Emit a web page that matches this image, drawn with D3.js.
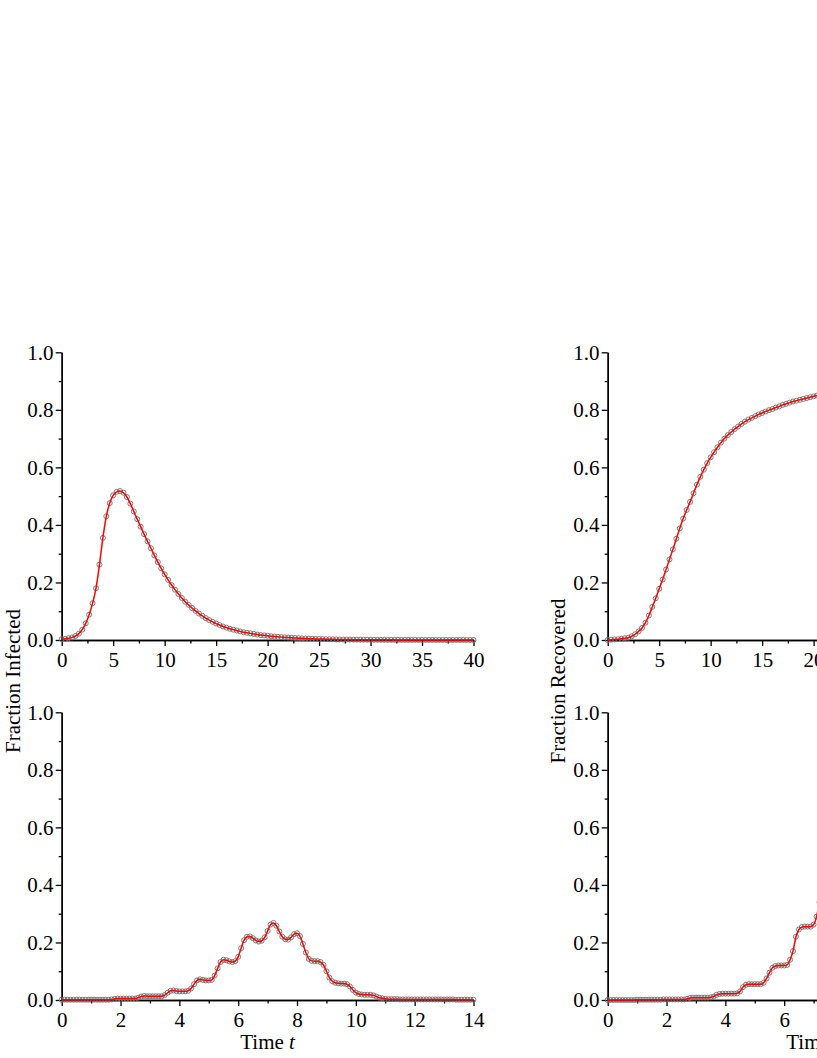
<!DOCTYPE html>
<html><head><meta charset="utf-8">
<script src="https://cdn.jsdelivr.net/npm/d3@7"></script>
<style>
body{margin:0;background:#fff}
svg{display:block}
text{font-family:"Liberation Serif","Times New Roman",serif;fill:#000}
</style>
</head><body>
<svg id="c" width="817" height="1058"></svg>
<script>
// ---------- data ----------
// top panels: samples every 1/3 time unit, t = 0 .. 40
const topStepCount = 121;
const tTop = d3.range(topStepCount).map(i => i / 3);
const infectedTop = [
 0.003,0.004,0.006,0.009,0.014,0.022,0.036,0.058,0.088,0.128,
 0.180,0.262,0.355,0.430,0.476,0.503,0.515,0.518,0.512,0.497,
 0.474,0.447,0.420,0.394,0.368,0.343,0.319,0.294,0.271,0.249,
 0.228,0.209,0.191,0.175,0.160,0.146,0.133,0.122,0.111,0.101,
 0.092,0.084,0.076,0.069,0.063,0.057,0.052,0.047,0.043,0.039,
 0.036,0.033,0.030,0.027,0.025,0.023,0.021,0.019,0.017,0.016,
 0.015,0.013,0.012,0.011,0.010,0.009,0.0085,0.0077,0.0070,0.0063,
 0.0057,0.0052,0.0047,0.0043,0.0039,0.0035,0.0032,0.0029,0.0026,0.0024,
 0.0021,0.0019,0.0017,0.0016,0.0014,0.0013,0.0012,0.0011,0.0010,0.0009,
 0.0008,0.0007,0.0007,0.0006,0.0006,0.0005,0.0005,0.0004,0.0004,0.0004,
 0.0003,0.0003,0.0003,0.0003,0.0002,0.0002,0.0002,0.0002,0.0002,0.0001,
 0.0001,0.0001,0.0001,0.0001,0.0001,0.0001,0.0001,0.0001,0.0001,0.0001,
 0.0001
];
const recoveredTop = [
 0.000,0.001,0.002,0.003,0.004,0.006,0.008,0.013,0.020,0.030,
 0.042,0.060,0.085,0.115,0.145,0.178,0.210,0.245,0.280,0.315,
 0.352,0.388,0.422,0.452,0.480,0.510,0.540,0.567,0.592,0.615,
 0.635,0.653,0.670,0.686,0.700,0.712,0.723,0.733,0.742,0.751,
 0.759,0.766,0.772,0.778,0.784,0.789,0.794,0.799,0.803,0.808,
 0.812,0.817,0.821,0.825,0.829,0.832,0.835,0.838,0.841,0.844,
 0.847,0.850,0.852,0.854,0.856,0.857,0.859,0.860,0.861,0.862,
 0.863,0.864,0.865,0.866,0.866,0.867,0.867,0.868,0.868,0.868,
 0.869,0.869,0.869,0.869,0.870,0.870,0.870,0.870,0.870,0.870,
 0.871,0.871,0.871,0.871,0.871,0.871,0.871,0.871,0.871,0.871,
 0.871,0.871,0.871,0.871,0.871,0.871,0.871,0.871,0.871,0.871,
 0.871,0.871,0.871,0.871,0.871,0.871,0.871,0.871,0.871,0.871,
 0.871
];
// bottom panels: samples every 0.1 time unit, t = 0 .. 14
const bottomStepCount = 141;
const tBottom = d3.range(bottomStepCount).map(i => i / 10);
const infectedBottom = [
 0.001,0.001,0.001,0.001,0.001,0.001,0.001,0.001,0.001,0.001,
 0.001,0.001,0.001,0.001,0.001,0.001,0.001,0.002,0.004,0.005,
 0.005,0.005,0.005,0.005,0.005,0.005,0.008,0.012,0.014,0.013,
 0.013,0.013,0.013,0.013,0.013,0.017,0.025,0.032,0.033,0.031,
 0.030,0.030,0.030,0.032,0.040,0.055,0.068,0.072,0.070,0.068,
 0.068,0.070,0.085,0.110,0.132,0.140,0.138,0.134,0.132,0.135,
 0.150,0.180,0.208,0.220,0.221,0.215,0.207,0.203,0.206,0.218,
 0.240,0.262,0.268,0.258,0.238,0.220,0.211,0.210,0.218,0.229,
 0.232,0.222,0.195,0.165,0.143,0.136,0.135,0.135,0.132,0.122,
 0.100,0.078,0.065,0.060,0.058,0.057,0.057,0.055,0.047,0.035,
 0.026,0.021,0.019,0.018,0.018,0.018,0.016,0.012,0.008,0.006,
 0.004,0.003,0.003,0.003,0.003,0.002,0.002,0.002,0.002,0.002,
 0.002,0.002,0.002,0.002,0.002,0.002,0.002,0.002,0.002,0.002,
 0.002,0.002,0.002,0.002,0.001,0.001,0.001,0.001,0.001,0.001,
 0.001
];
const recoveredBottom = [
 0.000,0.000,0.000,0.000,0.000,0.000,0.000,0.000,0.000,0.000,
 0.001,0.001,0.001,0.001,0.001,0.001,0.001,0.001,0.001,0.002,
 0.002,0.002,0.002,0.002,0.002,0.002,0.002,0.004,0.007,0.008,
 0.008,0.008,0.008,0.008,0.008,0.009,0.012,0.018,0.021,0.022,
 0.022,0.022,0.022,0.022,0.023,0.030,0.045,0.053,0.055,0.055,
 0.055,0.055,0.055,0.060,0.075,0.095,0.112,0.118,0.120,0.120,
 0.120,0.122,0.140,0.170,0.220,0.245,0.254,0.255,0.255,0.255,
 0.262,0.290,0.340,0.400,0.440,0.460,0.468,0.470,0.475,0.490,
 0.540,0.600,0.650,0.680,0.690,0.695,0.695,0.695,0.695,0.710,
 0.750,0.800,0.820,0.830,0.830,0.830,0.830,0.830,0.850,0.870,
 0.885,0.890,0.890,0.890,0.890,0.890,0.890,0.900,0.905,0.908,
 0.908,0.908,0.908,0.908,0.909,0.909,0.909,0.909,0.909,0.909,
 0.909,0.909,0.909,0.910,0.910,0.910,0.910,0.910,0.910,0.910,
 0.910,0.910,0.910,0.910,0.910,0.910,0.910,0.910,0.910,0.910,
 0.910
];
const yTicksMajor = [0, 0.2, 0.4, 0.6, 0.8, 1.0];
const yTicksMinor = [0.1, 0.3, 0.5, 0.7, 0.9];
const xTicksTopMajor = [0, 5, 10, 15, 20, 25, 30, 35, 40];
const xTicksTopMinor = [2.5, 7.5, 12.5, 17.5, 22.5, 27.5, 32.5, 37.5];
const xTicksBottomMajor = [0, 2, 4, 6, 8, 10, 12, 14];
const xTicksBottomMinor = [1, 3, 5, 7, 9, 11, 13];
const yLabels = ["Fraction Infected", "Fraction Recovered"];
const xLabel = "Time ";
const xLabelVar = "t";

// ---------- drawing ----------
const svg = d3.select('#c');
const W = 411.8, H = 287.7;
const FS = 21;

function drawPanel(p) {
  const x = d3.scaleLinear().domain([0, p.xmax]).range([p.x0, p.x0 + W]);
  const y = d3.scaleLinear().domain([0, 1]).range([p.y0, p.y0 - H]);
  const g = svg.append('g');

  const styleAxis = sel => {
    sel.select('.domain').attr('stroke', '#000').attr('stroke-width', 1.4);
    sel.selectAll('.tick line').attr('stroke', '#000').attr('stroke-width', 1.3);
    sel.selectAll('.tick text').attr('font-size', FS).attr('font-family', '"Liberation Serif", serif').attr('fill', '#000');
  };
  g.append('g').attr('transform', `translate(0,${p.y0})`)
    .call(d3.axisBottom(x).tickValues(p.xMinor).tickSize(3.5).tickSizeOuter(0).tickFormat(''))
    .call(styleAxis);
  g.append('g').attr('transform', `translate(0,${p.y0})`)
    .call(d3.axisBottom(x).tickValues(p.xMajor).tickSize(6).tickSizeOuter(0).tickPadding(5.8).tickFormat(d3.format('d')))
    .call(styleAxis);
  g.append('g').attr('transform', `translate(${p.x0},0)`)
    .call(d3.axisLeft(y).tickValues(yTicksMinor).tickSize(3).tickSizeOuter(0).tickFormat(''))
    .call(styleAxis);
  g.append('g').attr('transform', `translate(${p.x0},0)`)
    .call(d3.axisLeft(y).tickValues(yTicksMajor).tickSize(6).tickSizeOuter(0).tickPadding(2.2).tickFormat(d3.format('.1f')))
    .call(styleAxis);

  g.append('g').selectAll('circle').data(p.v).join('circle')
    .attr('cx', (d, i) => x(p.t[i]))
    .attr('cy', d => y(d))
    .attr('r', 2.5)
    .attr('fill', 'none')
    .attr('stroke', '#6e6e6e')
    .attr('stroke-width', 0.9);

  const line = d3.line().x((d, i) => x(p.t[i])).y(d => y(d)).curve(d3.curveMonotoneX);
  g.append('path').datum(p.v).attr('d', line)
    .attr('fill', 'none').attr('stroke', '#ff0000').attr('stroke-width', 1.5);

  if (p.xlabel) {
    const tx = g.append('text').attr('x', p.x0 + W / 2).attr('y', p.y0 + 49.3)
      .attr('text-anchor', 'middle').attr('font-size', FS);
    tx.append('tspan').text(xLabel);
    tx.append('tspan').attr('font-style', 'italic').text(xLabelVar);
  }
}

const panels = [
  {t: tTop, v: infectedTop, x0: 61.7, y0: 640, xmax: 40, xMajor: xTicksTopMajor, xMinor: xTicksTopMinor, xlabel: false},
  {t: tTop, v: recoveredTop, x0: 607.7, y0: 640, xmax: 40, xMajor: xTicksTopMajor, xMinor: xTicksTopMinor, xlabel: false},
  {t: tBottom, v: infectedBottom, x0: 61.7, y0: 1000, xmax: 14, xMajor: xTicksBottomMajor, xMinor: xTicksBottomMinor, xlabel: true},
  {t: tBottom, v: recoveredBottom, x0: 607.7, y0: 1000, xmax: 14, xMajor: xTicksBottomMajor, xMinor: xTicksBottomMinor, xlabel: true}
];
panels.forEach(drawPanel);

[[20, yLabels[0]], [565, yLabels[1]]].forEach(([xx, lab]) => {
  svg.append('text')
    .attr('transform', `translate(${xx},681) rotate(-90)`)
    .attr('text-anchor', 'middle')
    .attr('font-size', 21)
    .text(lab);
});
</script>
</body></html>
